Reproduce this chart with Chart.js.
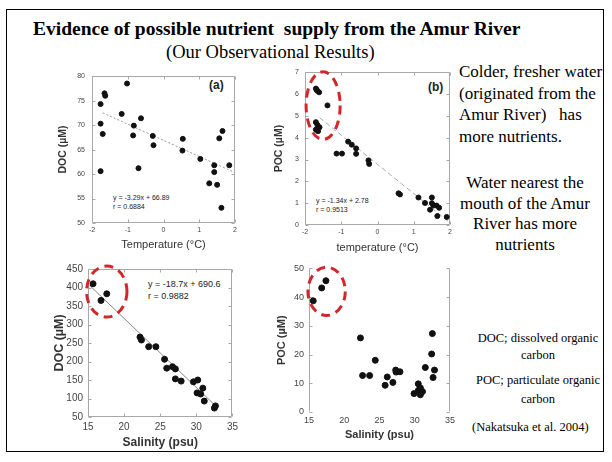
<!DOCTYPE html>
<html>
<head>
<meta charset="utf-8">
<script src="https://cdn.jsdelivr.net/npm/chart.js@4.4.0/dist/chart.umd.min.js"></script>
<style>
body { margin: 0; background: #fff; width: 612px; height: 462px; overflow: hidden; position: relative; font-family: "Liberation Serif", "Times New Roman", serif; }
#frame { position: absolute; left: 6px; top: 9px; width: 596px; height: 441px; border: 1.5px solid #000; }
.t { position: absolute; white-space: nowrap; color: #000; line-height: 1; }
.s { position: absolute; white-space: nowrap; color: #222; font-family: "Liberation Sans", Arial, sans-serif; line-height: 1; }
canvas { position: absolute; }
</style>
</head>
<body>
<div id="frame"></div>

<div class="t" style="left:33px;top:19px;font-size:19.5px;font-weight:bold">Evidence of possible nutrient&nbsp; supply from the Amur River</div>
<div class="t" style="left:166px;top:43px;font-size:18.5px">(Our Observational Results)</div>

<div class="t" style="left:459px;top:61px;font-size:17px;line-height:21.7px">Colder, fresher water<br>(originated from the<br>Amur River)&nbsp;&nbsp; has<br>more nutrients.</div>
<div class="t" style="left:450px;top:173px;width:150px;text-align:center;font-size:17px;line-height:20.7px">Water nearest the<br>mouth of the Amur<br>River has more<br>nutrients</div>

<div class="t" style="left:468px;top:330px;width:140px;text-align:center;font-size:12.5px;line-height:17px">DOC; dissolved organic<br>carbon</div>
<div class="t" style="left:468px;top:371px;width:140px;text-align:center;font-size:12.5px;line-height:19px">POC; particulate organic<br>carbon</div>
<div class="t" style="left:472px;top:421px;font-size:12.5px">(Nakatsuka et al. 2004)</div>

<div class="s" style="left:209px;top:79px;font-size:12px;font-weight:bold">(a)</div>
<div class="s" style="left:428px;top:81px;font-size:12px;font-weight:bold">(b)</div>
<div class="s" style="left:113px;top:193px;font-size:7px;line-height:9px">y = -3.29x + 66.89<br>r = 0.6884</div>
<div class="s" style="left:316px;top:196px;font-size:7px;line-height:9px">y = -1.34x + 2.78<br>r = 0.9513</div>
<div class="s" style="left:148px;top:278px;font-size:9px;line-height:12px">y = -18.7x + 690.6<br>r = 0.9882</div>

<canvas id="ca"></canvas>
<canvas id="cb"></canvas>
<canvas id="cc"></canvas>
<canvas id="cd"></canvas>

<script>
// (a) DOC vs temperature
const tempA = [-1.65, -1.63, -1.76, -1.02, -1.76, -1.70, -1.76, -1.17, -0.83, -0.63, -0.85, -0.30, -0.28, -0.70, 0.54, 0.53, 1.03, 1.28, 1.42, 1.42, 1.50, 1.65, 1.56, 1.62, 1.84];
const docA = [76.5, 76.0, 74.3, 78.5, 70.3, 68.2, 60.6, 72.3, 69.9, 71.4, 67.9, 67.8, 65.9, 61.2, 67.2, 64.8, 63.1, 58.1, 61.8, 60.4, 57.8, 68.8, 67.3, 53.1, 61.8];
const fitA = [[-1.7, 72.5], [2.0, 60.3]];

// (b) POC vs temperature
const tempB = [-1.70, -1.66, -1.61, -1.68, -1.38, -1.70, -1.66, -1.70, -1.64, -1.60, -1.13, -0.98, -0.81, -0.71, -0.59, -0.59, -0.25, -0.23, 0.58, 0.62, 1.13, 1.31, 1.50, 1.50, 1.54, 1.63, 1.70, 1.65, 1.91, 1.45];
const pocB = [6.25, 6.15, 6.08, 6.20, 5.48, 4.71, 4.59, 4.37, 4.30, 4.48, 3.27, 3.27, 3.82, 3.68, 3.51, 3.26, 2.96, 2.80, 1.45, 1.40, 1.26, 1.01, 1.26, 1.00, 0.89, 0.89, 0.79, 0.41, 0.37, 0.70];
const fitB = [[-1.6, 4.92], [2.0, 0.10]];

// (c) DOC vs salinity
const salC = [15.7, 17.6, 16.8, 22.2, 22.4, 23.4, 24.4, 25.6, 25.9, 26.7, 27.1, 27.1, 27.9, 29.6, 30.2, 30.1, 30.6, 30.9, 31.1, 32.65, 32.5];
const docC = [410, 383, 365, 266, 258, 240, 240, 206, 182, 186, 180, 153, 147, 145, 150, 115, 112, 128, 93, 80, 74];
const fitC = [[15.2, 406], [33.0, 74]];

// (d) POC vs salinity
const salD = [15.6, 16.8, 17.4, 22.3, 22.6, 23.6, 24.4, 25.8, 26.1, 26.9, 27.3, 27.35, 27.9, 30.5, 29.9, 30.5, 30.8, 31.1, 30.8, 31.5, 32.4, 32.5, 32.8, 32.6];
const pocD = [38.7, 43.2, 45.7, 25.8, 12.7, 12.7, 18.0, 9.3, 12.2, 10.3, 14.6, 13.9, 14.0, 9.8, 6.4, 7.5, 8.4, 7.1, 6.0, 15.5, 20.2, 27.3, 14.6, 12.0];

// red dashed rings: centre and radii in data units
const ringB = { x: -1.50, y: 5.47, rx: 0.47, ry: 1.55 };
const ringC = { x: 17.6, y: 389, rx: 2.8, ry: 69 };
const ringD = { x: 17.5, y: 42, rx: 2.65, ry: 8.4 };

Chart.defaults.font.family = '"Liberation Sans", Arial, sans-serif';
Chart.defaults.color = '#444';

const pts = (xs, ys) => xs.map((x, i) => ({ x: x, y: ys[i] }));

// box around the plot area with small inward ticks
const framePlugin = {
  id: 'frame',
  beforeDatasetsDraw(chart, args, opts) {
    const { ctx, chartArea: a, scales } = chart;
    const L = Math.round(a.left) + 0.5, R = Math.round(a.right) - 0.5;
    const T = Math.round(a.top) + 0.5, B = Math.round(a.bottom) - 0.5;
    const sides = opts.sides || 'lrtb';
    const tl = 3;
    ctx.save();
    ctx.strokeStyle = '#a8a8a8';
    ctx.lineWidth = 1;
    ctx.beginPath();
    if (sides.includes('l')) { ctx.moveTo(L, T); ctx.lineTo(L, B); }
    if (sides.includes('r')) { ctx.moveTo(R, T); ctx.lineTo(R, B); }
    if (sides.includes('t')) { ctx.moveTo(L, T); ctx.lineTo(R, T); }
    if (sides.includes('b')) { ctx.moveTo(L, B); ctx.lineTo(R, B); }
    scales.x.ticks.forEach((t, i) => {
      const px = Math.round(scales.x.getPixelForTick(i)) + 0.5;
      if (sides.includes('b')) { ctx.moveTo(px, B); ctx.lineTo(px, B - tl); }
      if (sides.includes('t')) { ctx.moveTo(px, T); ctx.lineTo(px, T + tl); }
    });
    scales.y.ticks.forEach((t, i) => {
      const py = Math.round(scales.y.getPixelForTick(i)) + 0.5;
      if (sides.includes('l')) { ctx.moveTo(L, py); ctx.lineTo(L + tl, py); }
      if (sides.includes('r')) { ctx.moveTo(R, py); ctx.lineTo(R - tl, py); }
    });
    ctx.stroke();
    ctx.restore();
  }
};

const ringPlugin = {
  id: 'ring',
  afterDraw(chart, args, opts) {
    const r = opts.ring;
    if (!r) return;
    const { ctx, scales } = chart;
    const px = scales.x.getPixelForValue(r.x), py = scales.y.getPixelForValue(r.y);
    const rx = Math.abs(scales.x.getPixelForValue(r.x + r.rx) - px);
    const ry = Math.abs(scales.y.getPixelForValue(r.y + r.ry) - py);
    ctx.save();
    ctx.strokeStyle = '#d3262a';
    ctx.lineWidth = 3;
    ctx.setLineDash([9, 6]);
    ctx.beginPath();
    ctx.ellipse(px, py, rx, ry, 0, 0, Math.PI * 2);
    ctx.stroke();
    ctx.restore();
  }
};

function makePanel(id, p) {
  const el = document.getElementById(id);
  el.width = p.box[2];
  el.height = p.box[3];
  el.style.left = p.box[0] + 'px';
  el.style.top = p.box[1] + 'px';
  const datasets = [{
    data: pts(p.xs, p.ys),
    backgroundColor: '#111',
    borderColor: '#111',
    pointRadius: p.radius,
    pointHoverRadius: p.radius
  }];
  if (p.fit) {
    datasets.push({
      type: 'line',
      data: p.fit.map(d => ({ x: d[0], y: d[1] })),
      borderColor: p.fitColor || '#999',
      borderWidth: 1,
      borderDash: p.fitDash || [],
      pointRadius: 0,
      fill: false
    });
  }
  return new Chart(el, {
    type: 'scatter',
    data: { datasets: datasets },
    plugins: [framePlugin, ringPlugin],
    options: {
      responsive: false,
      animation: false,
      events: [],
      layout: { padding: { top: 5, right: 5, left: 0, bottom: 0 } },
      plugins: {
        legend: { display: false },
        tooltip: { enabled: false },
        frame: { sides: p.sides },
        ring: { ring: p.ring }
      },
      scales: {
        x: {
          type: 'linear',
          min: p.xr[0], max: p.xr[1],
          grid: { display: false, drawTicks: false },
          border: { display: false },
          ticks: { stepSize: p.xr[2], font: { size: p.tickSize }, padding: p.xPad, maxRotation: 0 },
          title: { display: true, text: p.xTitle, font: p.xFont, color: '#333', padding: { top: 0, bottom: p.xTitlePad } },
          afterFit: s => { s.height = p.xAxisH; }
        },
        y: {
          type: 'linear',
          min: p.yr[0], max: p.yr[1],
          grid: { display: false, drawTicks: false },
          border: { display: false },
          ticks: { stepSize: p.yr[2], font: { size: p.tickSize }, padding: p.yPad },
          title: { display: true, text: p.yTitle, font: p.yFont, color: '#333', padding: { top: p.yTitlePad, bottom: 0 } },
          afterFit: s => { s.width = p.yAxisW; }
        }
      }
    }
  });
}

makePanel('ca', {
  box: [50, 65, 190, 188], xAxisH: 30, yAxisW: 42,
  xs: tempA, ys: docA, fit: fitA, fitDash: [2, 2], radius: 2.5,
  xr: [-2, 2, 1], yr: [50, 80, 5], tickSize: 7, xPad: 3, yPad: 7,
  xTitle: 'Temperature (°C)', xFont: { size: 11 }, xTitlePad: 1,
  yTitle: 'DOC (µM)', yFont: { size: 10.5, weight: 'bold' }, yTitlePad: 7,
  sides: 'lrtb'
});

makePanel('cb', {
  box: [262, 62, 193, 193], xAxisH: 30, yAxisW: 43,
  xs: tempB, ys: pocB, fit: fitB, fitDash: [5, 3], fitColor: '#aaa', radius: 2.5, ring: ringB,
  xr: [-2, 2, 1], yr: [0, 7, 1], tickSize: 7, xPad: 3, yPad: 6,
  xTitle: 'temperature (°C)', xFont: { size: 11 }, xTitlePad: 0,
  yTitle: 'POC (µM)', yFont: { size: 10.5, weight: 'bold' }, yTitlePad: 11,
  sides: 'lrtb'
});

makePanel('cc', {
  box: [40, 258, 202, 195], xAxisH: 36, yAxisW: 48,
  xs: salC, ys: docC, fit: fitC, fitColor: '#888', radius: 3, ring: ringC,
  xr: [15, 35, 5], yr: [50, 450, 50], tickSize: 10, xPad: 4, yPad: 5,
  xTitle: 'Salinity (psu)', xFont: { size: 12, weight: 'bold' }, xTitlePad: 3,
  yTitle: 'DOC (µM)', yFont: { size: 12.5, weight: 'bold' }, yTitlePad: 12,
  sides: 'lrtb'
});

makePanel('cd', {
  box: [262, 258, 196, 186], xAxisH: 32, yAxisW: 47,
  xs: salD, ys: pocD, radius: 3, ring: ringD,
  xr: [15, 35, 5], yr: [0, 50, 10], tickSize: 9, xPad: 3, yPad: 5,
  xTitle: 'Salinity (psu)', xFont: { size: 11, weight: 'bold' }, xTitlePad: 2,
  yTitle: 'POC (µM)', yFont: { size: 11, weight: 'bold' }, yTitlePad: 13,
  sides: 'lr'
});
</script>
</body>
</html>
